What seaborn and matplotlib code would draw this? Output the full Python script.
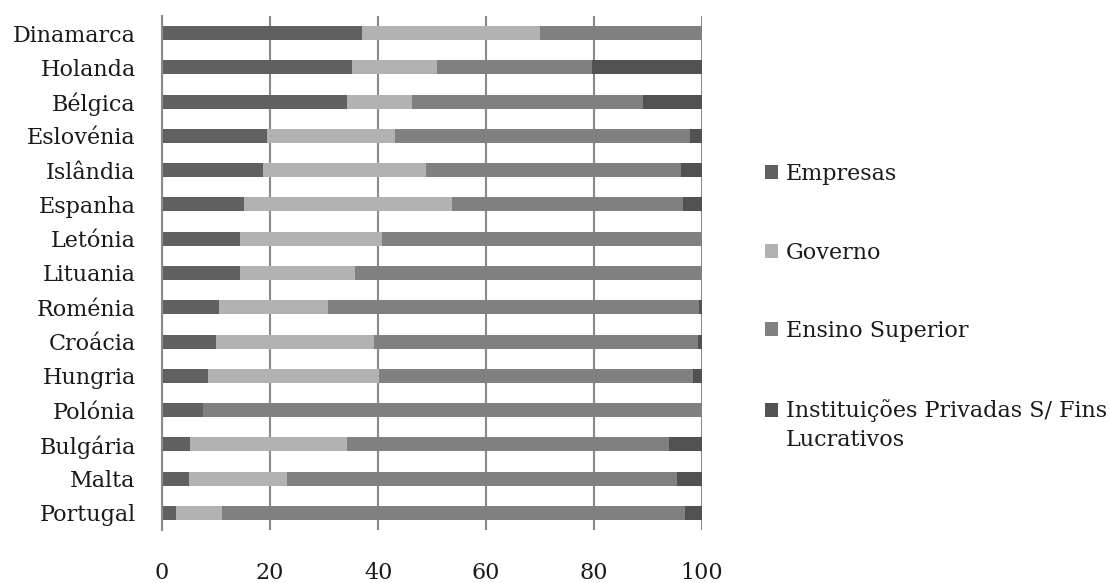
import matplotlib
matplotlib.use("Agg")
import matplotlib.pyplot as plt
import matplotlib.patches as mpatches
from matplotlib.legend_handler import HandlerPatch
import numpy as np
import pandas as pd
import seaborn as sns

# Shares of R&D expenditure by sector of performance (%)
countries = ["Dinamarca", "Holanda", "Bélgica", "Eslovénia", "Islândia", "Espanha",
             "Letónia", "Lituania", "Roménia", "Croácia", "Hungria", "Polónia",
             "Bulgária", "Malta", "Portugal"]
empresas = [37.0, 35.1, 34.2, 19.4, 18.6, 15.1, 14.4, 14.4, 10.6, 9.9, 8.5, 7.6, 5.2, 4.9, 2.5]
governo = [33.0, 15.9, 12.0, 23.7, 30.3, 38.5, 26.4, 21.4, 20.2, 29.4, 31.7, 0.0, 29.0, 18.3, 8.6]
ensino_superior = [30.0, 28.7, 42.8, 54.7, 47.2, 42.8, 59.2, 64.2, 68.6, 59.9, 58.1, 92.4, 59.6, 72.2, 85.7]
ipsfl = [0.0, 20.3, 11.0, 2.2, 3.9, 3.6, 0.0, 0.0, 0.6, 0.8, 1.7, 0.0, 6.2, 4.6, 3.2]

series_names = ["Empresas", "Governo", "Ensino Superior",
                "Instituições Privadas S/ Fins\nLucrativos"]
series_colors = ["#606060", "#b2b2b2", "#808080", "#525252"]
x_ticks = [0, 20, 40, 60, 80, 100]

FONT_SIZE = 16

sns.set_theme(style="white")
plt.rcParams["font.family"] = ["DejaVu Serif"]

df = pd.DataFrame({"pais": countries, "Empresas": empresas, "Governo": governo,
                   "Ensino": ensino_superior, "IPSFL": ipsfl})
cols = ["Empresas", "Governo", "Ensino", "IPSFL"]
cum = df[cols].cumsum(axis=1)

fig = plt.figure(figsize=(11.1, 5.83), dpi=100)
ax = fig.add_axes([0.146, 0.0909, 0.4865, 0.8817])

# Stacked bars: draw cumulative totals from the outermost segment inwards
for col, color in zip(reversed(cols), reversed(series_colors)):
    sns.barplot(x=cum[col], y=df["pais"], orient="h", color=color,
                width=0.41, ax=ax, saturation=1, linewidth=0)

ax.set_xlim(0, 100)
ax.set_ylim(len(countries) - 0.5, -0.5)
ax.set_xlabel("")
ax.set_ylabel("")
ax.set_xticks(x_ticks)
ax.set_axisbelow(True)
ax.grid(axis="x", color="#8a8a8a", linewidth=1.5)
ax.grid(axis="y", visible=False)

for side in ["top", "right", "bottom"]:
    ax.spines[side].set_visible(False)
ax.spines["left"].set_color("#8a8a8a")
ax.spines["left"].set_linewidth(1.5)

ax.tick_params(axis="y", which="major", length=0, pad=19, labelsize=FONT_SIZE, labelcolor="#1a1a1a")
ax.set_yticks(np.arange(-0.5, len(countries), 1.0), minor=True)
ax.tick_params(axis="y", which="minor", length=8, width=1.5, color="#8a8a8a", direction="out")
ax.tick_params(axis="x", which="major", length=7, width=1.5, color="#8a8a8a",
               direction="out", pad=16, labelsize=FONT_SIZE, labelcolor="#1a1a1a")


class TopAlignedSquare(HandlerPatch):
    """Square legend key aligned with the first line of a wrapped label."""

    def __init__(self, lift=0.0, **kw):
        super().__init__(**kw)
        self.lift = lift

    def create_artists(self, legend, orig_handle, xdescent, ydescent,
                       width, height, fontsize, trans):
        p = mpatches.Rectangle((-xdescent, -ydescent + self.lift), width, height,
                               facecolor=orig_handle.get_facecolor(), edgecolor="none",
                               transform=trans)
        return [p]


handles = [mpatches.Patch(facecolor=c, edgecolor="none") for c in series_colors]
handler_map = {h: TopAlignedSquare(lift=(0.72 * FONT_SIZE if "\n" in name else 0.0))
               for h, name in zip(handles, series_names)}
leg = fig.legend(handles, series_names, loc="upper left", bbox_to_anchor=(0.671, 0.755),
                 frameon=False, fontsize=FONT_SIZE, handlelength=0.6, handleheight=0.6,
                 handletextpad=0.35, labelspacing=2.55, labelcolor="#1a1a1a",
                 handler_map=handler_map)
for t in leg.get_texts():
    t.set_linespacing(1.45)

fig.savefig("out.png", dpi=100)
